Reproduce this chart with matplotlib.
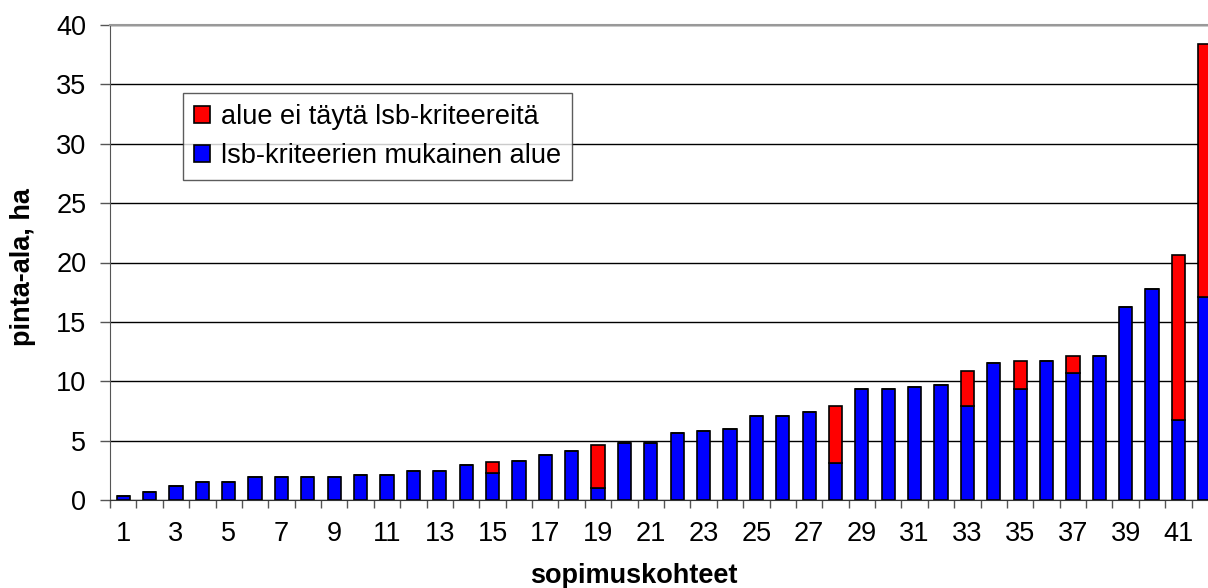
import matplotlib
matplotlib.use("Agg")
import matplotlib.pyplot as plt
import numpy as np

plt.rcParams['font.family'] = ['Liberation Sans', 'DejaVu Sans']

categories = list(range(1, 43))
blue_values = [0.35, 0.68, 1.15, 1.49, 1.49, 1.97, 1.97, 1.97, 1.97, 2.14,
               2.14, 2.48, 2.48, 2.96, 2.30, 3.31, 3.82, 4.16, 1.01, 4.77,
               4.77, 5.62, 5.79, 5.96, 7.10, 7.10, 7.44, 3.15, 9.38, 9.38,
               9.54, 9.71, 7.89, 11.54, 9.38, 11.68, 10.69, 12.15, 16.28, 17.74,
               6.76, 17.07]
total_values = [0.35, 0.68, 1.15, 1.49, 1.49, 1.97, 1.97, 1.97, 1.97, 2.14,
                2.14, 2.48, 2.48, 2.96, 3.18, 3.31, 3.82, 4.16, 4.63, 4.77,
                4.77, 5.62, 5.79, 5.96, 7.10, 7.10, 7.44, 7.89, 9.38, 9.38,
                9.54, 9.71, 10.86, 11.54, 11.68, 11.68, 12.15, 12.15, 16.28, 17.74,
                20.66, 38.37]
red_values = [round(t - b, 2) for t, b in zip(total_values, blue_values)]
y_ticks = [0, 5, 10, 15, 20, 25, 30, 35, 40]
label_red = "alue ei täytä lsb-kriteereitä"
label_blue = "lsb-kriteerien mukainen alue"
xlabel = "sopimuskohteet"
ylabel = "pinta-ala, ha"

FS = 19.5

fig = plt.figure(figsize=(12.08, 5.88), dpi=100)
ax = fig.add_axes([110/1208, 88/588, 1108/1208, 475/588])

x = np.array(categories)
ax.bar(x, blue_values, width=0.5, color='#0000FF', edgecolor='black', linewidth=1.2,
       label=label_blue, zorder=3)
ax.bar(x, red_values, width=0.5, bottom=blue_values, color='#FF0000', edgecolor='black',
       linewidth=1.2, label=label_red, zorder=3)

ax.set_xlim(0.5, 42.5)
ax.set_ylim(0, 40)
ax.set_yticks(y_ticks)
ax.yaxis.grid(True, color='black', linewidth=1.0, zorder=0)
ax.set_axisbelow(True)

odd = [c for c in categories if c % 2 == 1]
ax.set_xticks(odd)
ax.set_xticklabels([str(c) for c in odd])
ax.set_xticks(np.arange(0.5, 43, 1.0), minor=True)
ax.tick_params(axis='x', which='major', length=0, pad=15, labelsize=FS)
ax.tick_params(axis='x', which='minor', length=6, width=1, color='#555555', direction='out')
ax.tick_params(axis='y', length=7, width=1, color='#555555', labelsize=FS, pad=10)

ax.spines['right'].set_visible(False)
ax.spines['top'].set_color('#999999')
ax.spines['top'].set_linewidth(1.5)
ax.spines['left'].set_color('#555555')
ax.spines['bottom'].set_color('#333333')

ax.set_xlabel(xlabel, fontsize=FS, fontweight='bold')
ax.set_ylabel(ylabel, fontsize=FS, fontweight='bold')
ax.xaxis.set_label_coords((633.5 - 110) / 1108, -0.132)
ax.yaxis.set_label_coords((36 - 110) / 1108, 0.49)

handles, labels = ax.get_legend_handles_labels()
leg = ax.legend(handles[::-1], labels[::-1], loc='upper left',
                bbox_to_anchor=((183 - 110) / 1108, (500 - 93) / 475), borderaxespad=0,
                frameon=True, fancybox=False,
                edgecolor='#333333', fontsize=FS, handlelength=0.6, handleheight=0.6,
                handletextpad=0.4, borderpad=0.4, labelspacing=0.5)
leg.get_frame().set_linewidth(1.0)

fig.savefig("out.png", dpi=100)
